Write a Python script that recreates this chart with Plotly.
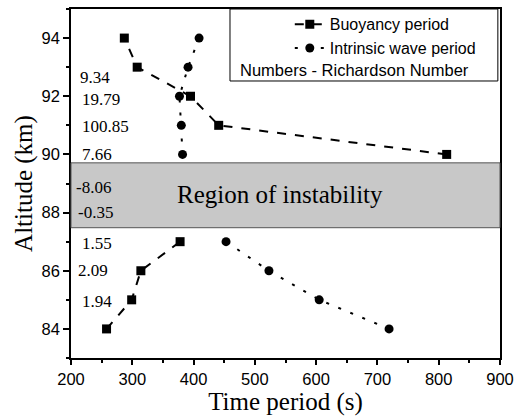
import plotly.graph_objects as go

# ---- data ----
buoy_period = [258, 299, 314, 378, None, 813, 441, 395, 308, 287]
buoy_alt = [84, 85, 86, 87, None, 90, 91, 92, 93, 94]
wave_period = [719, 605, 523, 453, None, 382, 380, 377, 391, 409]
wave_alt = [84, 85, 86, 87, None, 90, 91, 92, 93, 94]
ri_values = ["9.34", "19.79", "100.85", "7.66", "-8.06", "-0.35", "1.55", "2.09", "1.94"]
ri_alt = [92.65, 91.9, 90.95, 90.0, 88.87, 88.0, 86.95, 86.0, 84.93]
ri_x = [211, 215, 215, 215, 205, 208, 215, 208, 215]
instab_low, instab_high = 87.48, 89.71
x_ticks = [200, 300, 400, 500, 600, 700, 800, 900]
y_ticks = [84, 86, 88, 90, 92, 94]

SANS = "Liberation Sans"
SERIF = "Liberation Serif"

fig = go.Figure()
fig.add_trace(go.Scatter(
    x=buoy_period, y=buoy_alt, mode="lines+markers", name="Buoyancy period",
    line=dict(color="black", width=2, dash="9px,9px"),
    marker=dict(symbol="square", size=9, color="black"),
    connectgaps=False,
))
fig.add_trace(go.Scatter(
    x=wave_period, y=wave_alt, mode="lines+markers", name="Intrinsic wave period",
    line=dict(color="black", width=2, dash="3px,10px"),
    marker=dict(symbol="circle", size=9, color="black"),
    connectgaps=False,
))

# region of instability
fig.add_shape(type="rect", xref="paper", yref="y", x0=0, x1=1, y0=instab_low, y1=instab_high,
              fillcolor="#c8c8c8", line=dict(color="#555555", width=1), layer="above")
fig.add_annotation(x=541, y=88.62, xref="x", yref="y", text="Region of instability",
                   showarrow=False, font=dict(family=SERIF, size=25, color="black"))

for t, yv, xv in zip(ri_values, ri_alt, ri_x):
    fig.add_annotation(x=xv, y=yv, xref="x", yref="y", text=t, showarrow=False,
                       xanchor="left", yanchor="middle",
                       font=dict(family=SERIF, size=17, color="black"))

# legend box
fig.add_shape(type="rect", xref="paper", yref="paper", x0=0.3706, x1=0.995, y0=0.7937, y1=1.0,
              fillcolor="white", line=dict(color="black", width=1), layer="below")
fig.add_annotation(x=0.389, y=0.826, xref="paper", yref="paper", text="Numbers - Richardson Number",
                   showarrow=False, xanchor="left", yanchor="middle",
                   font=dict(family=SANS, size=16.5, color="black"))

fig.update_layout(
    width=517, height=418,
    margin=dict(l=71, r=17, t=9, b=60, autoexpand=False),
    paper_bgcolor="white", plot_bgcolor="white",
    showlegend=True,
    legend=dict(x=0.51, y=1.005, xanchor="left", yanchor="top",
                bgcolor="rgba(0,0,0,0)", borderwidth=0,
                font=dict(family=SANS, size=16, color="black"),
                tracegroupgap=0),
)
fig.update_xaxes(
    range=[200, 900], tickvals=x_ticks, ticks="outside", ticklen=5, tickwidth=1.5,
    tickcolor="black", showline=True, linecolor="black", linewidth=1.5, mirror=True,
    showgrid=False, zeroline=False,
    tickfont=dict(family=SANS, size=16.5, color="black"),
    title=dict(text="Time period (s)", font=dict(family=SERIF, size=25, color="black"), standoff=4),
    minor=dict(dtick=50, ticks="outside", ticklen=3, tickwidth=1.5, tickcolor="black"),
)
fig.update_yaxes(
    range=[83, 95], tickvals=y_ticks, ticks="outside", ticklen=6, tickwidth=1.5,
    tickcolor="black", showline=True, linecolor="black", linewidth=1.5, mirror=True,
    showgrid=False, zeroline=False,
    tickfont=dict(family=SANS, size=16.5, color="black"),
    title=dict(text="Altitude (km)", font=dict(family=SERIF, size=25, color="black"), standoff=2),
    minor=dict(dtick=1, tick0=83, ticks="outside", ticklen=3, tickwidth=1.5, tickcolor="black"),
)

fig.write_html("out.html")
